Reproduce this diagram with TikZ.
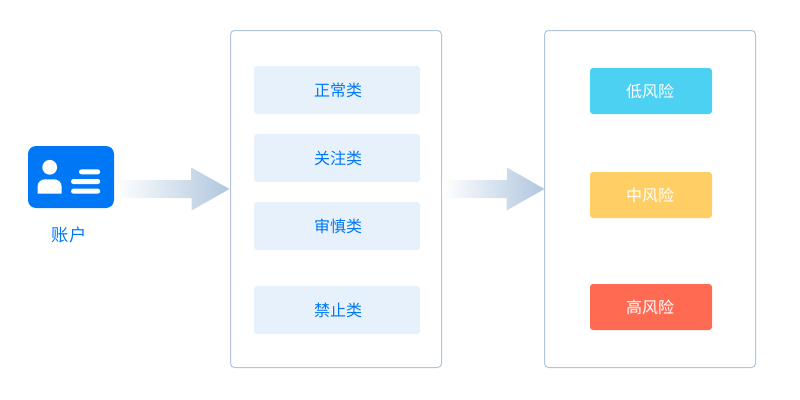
\documentclass[tikz,border=0pt]{standalone}
\usepackage{fontspec}
\setmainfont{Noto Sans CJK SC}
\usetikzlibrary{calc}
\definecolor{cblue}{HTML}{0078F5}
\definecolor{cborder}{HTML}{B0C6DE}
\definecolor{clight}{HTML}{E6F1FB}
\definecolor{clow}{HTML}{4CD1F2}
\definecolor{cmid}{HTML}{FFCF66}
\definecolor{chigh}{HTML}{FF6B52}
\tikzset{
  panel/.style={draw=cborder,line width=0.75pt,fill=white,rounded corners=3pt,minimum width=158.25pt,minimum height=252.75pt,inner sep=0pt,outer sep=0pt},
  catbox/.style={fill=clight,rounded corners=2.25pt,minimum width=124.5pt,minimum height=36pt,inner sep=0pt,outer sep=0pt,text=cblue,font=\fontsize{12pt}{14pt}\selectfont},
  riskbox/.style={rounded corners=2.25pt,minimum width=91.5pt,minimum height=34.5pt,inner sep=0pt,outer sep=0pt,text=white,font=\fontsize{12pt}{14pt}\selectfont},
  flowarrow/.style={left color=white,right color=cborder,shading angle=90,draw=none},
}
\begin{document}
\begin{tikzpicture}[x=0.75pt,y=-0.75pt]
\useasboundingbox (0,0) rectangle (800,400);
% account icon
\node[fill=cblue,rounded corners=6pt,minimum width=64.5pt,minimum height=46.5pt,inner sep=0pt,outer sep=0pt] (acct) at (71,177) {};
\node[text=cblue,inner sep=0pt,font=\fontsize{13pt}{15pt}\selectfont] (acctlabel) at (69.3,235) {账户};
\fill[white] (49.7,167.3) circle (7.4);
\fill[white] (37.5,193.5) -- (37.5,187) .. controls (37.5,182) and (41,179.3) .. (45,179.3) -- (54,179.3) .. controls (58,179.3) and (61.7,182) .. (61.7,187) -- (61.7,193.5) -- cycle;
\fill[white,rounded corners=1.8pt] (79,169.3) rectangle (100.2,174.3);
\fill[white,rounded corners=1.8pt] (71,179) rectangle (100.2,184);
\fill[white,rounded corners=1.8pt] (71,188.7) rectangle (100.2,193.7);
% panels
\node[panel] (p1) at (336,199) {};
\node[panel] (p2) at (650,199) {};
% categories
\node[catbox] (c1) at (337,90) {\hspace*{1.5pt}正常类};
\node[catbox] (c2) at (337,158) {\hspace*{1.5pt}关注类};
\node[catbox] (c3) at (337,226) {\hspace*{1.5pt}审慎类};
\node[catbox] (c4) at (337,310) {\hspace*{1.5pt}禁止类};
% risks
\node[riskbox,fill=clow] (r1) at (651,91) {低风险\hspace*{1.5pt}};
\node[riskbox,fill=cmid] (r2) at (651,195) {中风险\hspace*{1.5pt}};
\node[riskbox,fill=chigh] (r3) at (651,307) {高风险\hspace*{1.5pt}};
% arrows
\coordinate (a1s) at ($(acct.east |- 0,189)+(1,0)$);
\coordinate (a1t) at ($(p1.west |- 0,189)+(-1,0)$);
\coordinate (a2s) at ($(p1.east |- 0,189)+(1,0)$);
\coordinate (a2t) at (p2.west |- 0,189);
\shade[flowarrow] (a1s) ++(0,-9) -- ++(76,0) -- ++(0,-12.5) -- (a1t) -- ($(a1t)+(-38,21.5)$) -- ++(0,-12.5) -- ($(a1s)+(0,9)$) -- cycle;
\shade[flowarrow] (a2s) ++(0,-9) -- ++(64.5,0) -- ++(0,-12.5) -- (a2t) -- ($(a2t)+(-38,21.5)$) -- ++(0,-12.5) -- ($(a2s)+(0,9)$) -- cycle;
\end{tikzpicture}
\end{document}
